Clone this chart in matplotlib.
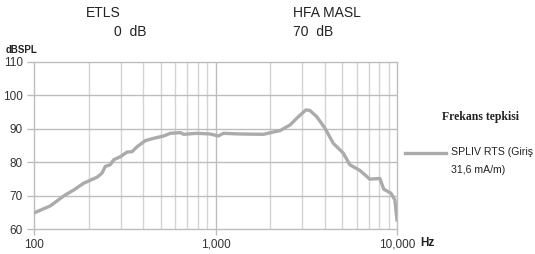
import matplotlib
matplotlib.use("Agg")
import matplotlib.pyplot as plt
import numpy as np

# Data
freq_hz = [100, 123, 146, 166, 188, 223, 237, 247, 263, 275, 299, 326, 347, 370, 410,
           456, 518, 563, 640, 668, 789, 935, 1036, 1106, 1363, 1838, 2091, 2268, 2576,
           2804, 3148, 3316, 3606, 4013, 4456, 5056, 5497, 6242, 7088, 8046, 8454, 9260,
           9730, 10000]
spl_db = [64.8, 66.9, 69.9, 71.7, 73.7, 75.5, 76.7, 78.7, 79.2, 80.7, 81.6, 83.0, 83.1,
          84.6, 86.4, 87.1, 87.8, 88.6, 88.8, 88.3, 88.6, 88.4, 87.8, 88.6, 88.4, 88.3,
          89.0, 89.4, 91.1, 93.1, 95.6, 95.4, 93.6, 90.1, 85.6, 82.7, 79.2, 77.5, 74.9,
          75.1, 71.9, 70.7, 68.7, 62.7]
y_ticks = [60, 70, 80, 90, 100, 110]
x_ticks = [100, 1000, 10000]
x_tick_labels = ["100", "1,000", "10,000"]
series_label_lines = ["SPLIV RTS (Giriş", "31,6 mA/m)"]

plt.rcParams['font.family'] = ['Liberation Sans', 'DejaVu Sans']

W, H = 535, 254
fig = plt.figure(figsize=(W / 100, H / 100), dpi=100)
ax = fig.add_axes([34 / W, 1 - 229 / H, (397 - 34) / W, (229 - 61.7) / H])

ax.set_xscale('log')
ax.set_xlim(100, 10000)
ax.set_ylim(60, 110)

minor = [m * d for d in (100, 1000) for m in range(2, 10)]
for f in minor:
    ax.axvline(f, color='#d4d4d4', lw=1.0, zorder=1)
for f in [1000]:
    ax.axvline(f, color='#bdbdbd', lw=1.0, zorder=1)
for v in y_ticks[1:-1]:
    ax.axhline(v, color='#bdbdbd', lw=1.0, zorder=1)

for s in ax.spines.values():
    s.set_color('#bdbdbd')
    s.set_linewidth(1.0)

ax.plot(freq_hz, spl_db, color='#ababab', lw=2.4, zorder=3, solid_joinstyle='round')

ax.set_yticks(y_ticks)
ax.set_yticklabels([str(v) for v in y_ticks])
ax.set_xticks(x_ticks)
ax.set_xticklabels(x_tick_labels)
ax.xaxis.set_minor_locator(matplotlib.ticker.NullLocator())
ax.tick_params(axis='y', length=5, width=1, color='#bdbdbd', labelsize=8.5, pad=3, labelcolor='#333333')
ax.tick_params(axis='x', length=4, width=1, color='#bdbdbd', labelsize=8.5, pad=3, labelcolor='#333333')

fig.text(103 / W, 1 - 13 / H, "ETLS", ha='center', va='center', fontsize=10, color='#222222')
fig.text(130 / W, 1 - 32 / H, "0  dB", ha='center', va='center', fontsize=10, color='#222222')
fig.text(293 / W, 1 - 13 / H, "HFA MASL", ha='left', va='center', fontsize=10, color='#222222')
fig.text(293 / W, 1 - 32 / H, "70  dB", ha='left', va='center', fontsize=10, color='#222222')
fig.text(6 / W, 1 - 50 / H, "dBSPL", ha='left', va='center', fontsize=7, fontweight='bold', color='#222222')
fig.text(420 / W, 1 - 243 / H, "Hz", ha='left', va='center', fontsize=8.5, fontweight='bold', color='#222222')
fig.text(442 / W, 1 - 117 / H, "Frekans tepkisi", ha='left', va='center', fontsize=8.5,
         fontweight='bold', family=['Liberation Serif', 'DejaVu Serif'], color='#222222')

# legend
fig.add_artist(plt.Line2D([405 / W, 446 / W], [1 - 153 / H, 1 - 153 / H], color='#ababab', lw=2.4,
                          transform=fig.transFigure))
fig.text(451 / W, 1 - 152 / H, series_label_lines[0], ha='left', va='center', fontsize=7.6,
         color='#222222')
fig.text(451 / W, 1 - 170 / H, series_label_lines[1], ha='left', va='center', fontsize=7.6,
         color='#222222')

fig.savefig("out.png", dpi=100)
